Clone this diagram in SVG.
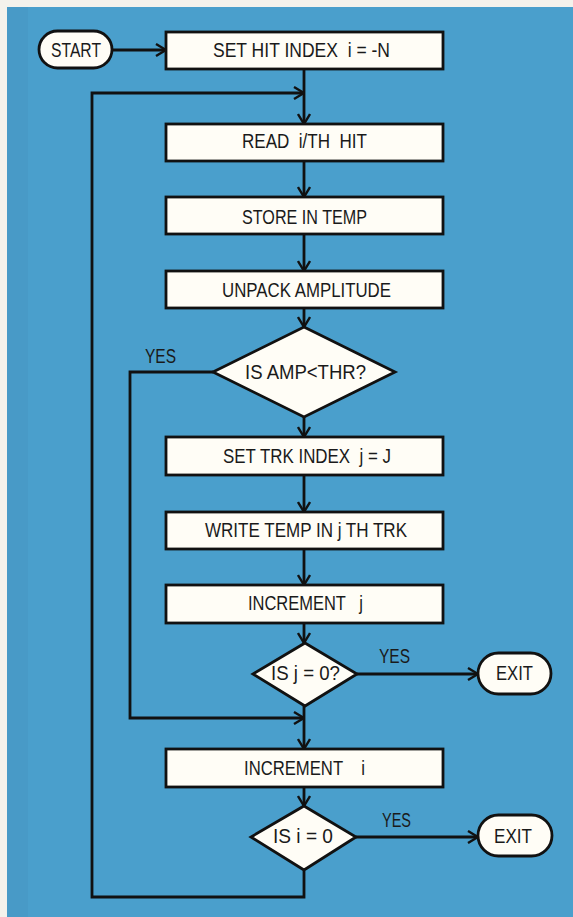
<svg xmlns="http://www.w3.org/2000/svg" width="573" height="917" viewBox="0 0 573 917">
<style>
.box{fill:#fffdf6;stroke:#111;stroke-width:2.8}
.ln{fill:none;stroke:#111;stroke-width:2.8;stroke-linejoin:miter}
.t{font-family:"Liberation Sans",Arial,sans-serif;font-size:20.5px;fill:#1a1a1a;white-space:pre}
</style>
<defs>
<marker id="ah" markerUnits="userSpaceOnUse" viewBox="0 0 12 14" refX="11" refY="7" markerWidth="12" markerHeight="14" orient="auto">
<path d="M1,1 L11,7 L1,13" fill="none" stroke="#111" stroke-width="2.4"/>
</marker>
</defs>
<rect x="0" y="0" width="573" height="917" fill="#f4f2ec"/>
<rect x="7" y="7" width="566" height="910" fill="#4a9fcc"/>
<rect x="7" y="7" width="21" height="910" fill="#4797c3" opacity="0.6"/>
<g id="connectors">
<path class="ln" d="M112,50 H166" marker-end="url(#ah)"/>
<path class="ln" d="M304,69 V124" marker-end="url(#ah)"/>
<path class="ln" d="M304,871 V897 H92 V93 H304" marker-end="url(#ah)"/>
<path class="ln" d="M304,161 V197" marker-end="url(#ah)"/>
<path class="ln" d="M304,234 V271" marker-end="url(#ah)"/>
<path class="ln" d="M304,308 V327" marker-end="url(#ah)"/>
<path class="ln" d="M304,417 V437" marker-end="url(#ah)"/>
<path class="ln" d="M213,372 H130 V718 H304" marker-end="url(#ah)"/>
<path class="ln" d="M304,475 V512" marker-end="url(#ah)"/>
<path class="ln" d="M304,549 V585" marker-end="url(#ah)"/>
<path class="ln" d="M304,623 V643" marker-end="url(#ah)"/>
<path class="ln" d="M304,706 V749" marker-end="url(#ah)"/>
<path class="ln" d="M357,674 H478" marker-end="url(#ah)"/>
<path class="ln" d="M304,787 V806" marker-end="url(#ah)"/>
<path class="ln" d="M356,837 H478" marker-end="url(#ah)"/>
<text class="t" x="145" y="363" textLength="31" lengthAdjust="spacingAndGlyphs">YES</text>
<text class="t" x="379" y="663" textLength="31" lengthAdjust="spacingAndGlyphs">YES</text>
<text class="t" x="382" y="827" textLength="29" lengthAdjust="spacingAndGlyphs">YES</text>
</g>
<g id="start">
<rect class="box" x="39" y="31" width="73" height="37" rx="18.5"/>
<text class="t" x="51" y="57" textLength="50" lengthAdjust="spacingAndGlyphs">START</text>
</g>
<g id="set-hit">
<rect class="box" x="166" y="32" width="277" height="37"/>
<text class="t" x="213" y="57" textLength="177" lengthAdjust="spacingAndGlyphs">SET HIT INDEX  i = -N</text>
</g>
<g id="read">
<rect class="box" x="166" y="124" width="277" height="37"/>
<text class="t" x="242" y="148" textLength="125" lengthAdjust="spacingAndGlyphs">READ  i/TH  HIT</text>
</g>
<g id="store">
<rect class="box" x="166" y="197" width="277" height="37"/>
<text class="t" x="242" y="224" textLength="125" lengthAdjust="spacingAndGlyphs">STORE IN TEMP</text>
</g>
<g id="unpack">
<rect class="box" x="166" y="271" width="277" height="37"/>
<text class="t" x="222" y="297" textLength="169" lengthAdjust="spacingAndGlyphs">UNPACK AMPLITUDE</text>
</g>
<g id="is-amp">
<polygon class="box" points="304,327 395,372 304,417 213,372"/>
<text class="t" x="245" y="379" textLength="121" lengthAdjust="spacingAndGlyphs">IS AMP&lt;THR?</text>
</g>
<g id="set-trk">
<rect class="box" x="166" y="437" width="277" height="38"/>
<text class="t" x="223" y="463" textLength="168" lengthAdjust="spacingAndGlyphs">SET TRK INDEX  j = J</text>
</g>
<g id="write">
<rect class="box" x="166" y="512" width="277" height="37"/>
<text class="t" x="205" y="537" textLength="202" lengthAdjust="spacingAndGlyphs">WRITE TEMP IN j TH TRK</text>
</g>
<g id="inc-j">
<rect class="box" x="166" y="585" width="277" height="38"/>
<text class="t" x="248" y="610" textLength="115" lengthAdjust="spacingAndGlyphs">INCREMENT   j</text>
</g>
<g id="is-j">
<polygon class="box" points="305,643 357,674 305,706 253,674"/>
<text class="t" x="271" y="680" textLength="69" lengthAdjust="spacingAndGlyphs">IS j = 0?</text>
</g>
<g id="exit-1">
<rect class="box" x="478" y="653" width="73" height="41" rx="20.5"/>
<text class="t" x="496" y="680" textLength="37" lengthAdjust="spacingAndGlyphs">EXIT</text>
</g>
<g id="inc-i">
<rect class="box" x="166" y="749" width="277" height="38"/>
<text class="t" x="244" y="775" textLength="121" lengthAdjust="spacingAndGlyphs">INCREMENT    i</text>
</g>
<g id="is-i">
<polygon class="box" points="304,806 356,837 304,870 251,837"/>
<text class="t" x="273" y="843" textLength="60" lengthAdjust="spacingAndGlyphs">IS i = 0</text>
</g>
<g id="exit-2">
<rect class="box" x="478" y="815" width="74" height="41" rx="20.5"/>
<text class="t" x="494" y="843" textLength="38" lengthAdjust="spacingAndGlyphs">EXIT</text>
</g>
</svg>
